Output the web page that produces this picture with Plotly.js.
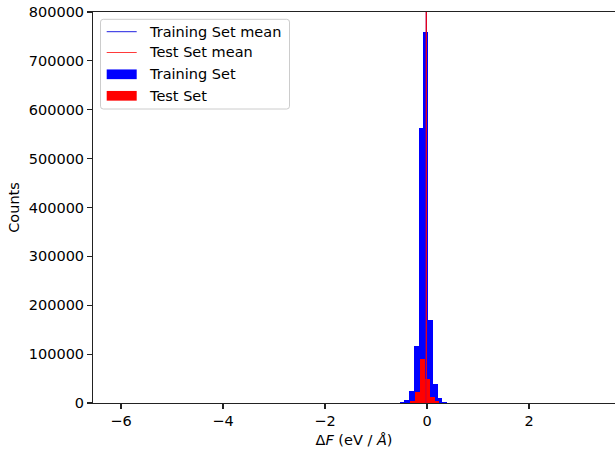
<!DOCTYPE html>
<html>
<head>
<meta charset="utf-8">
<script src="https://cdn.plot.ly/plotly-3.0.1.min.js"></script>
<style>html,body{margin:0;padding:0;background:#fff;}#chart{width:615px;height:458px;}</style>
</head>
<body>
<div id="chart"></div>
<script>
// ---- data ----
const trainBinLeft = [-0.630, -0.537, -0.444, -0.351, -0.258, -0.165, -0.072, 0.021, 0.114, 0.207, 0.300, 0.393];
const trainCounts  = [500, 2000, 6000, 25000, 117000, 563000, 760000, 170000, 39000, 11000, 2500, 500];
const trainBinWidth = 0.093;
const testBinLeft = [-0.327, -0.232, -0.137, -0.042, 0.053, 0.148];
const testCounts  = [3500, 23000, 91000, 49000, 12000, 4000];
const testBinWidth = 0.095;
const trainMean = -0.012;
const testMean = -0.014;
const xTicks = [-6, -4, -2, 0, 2];
const yTicks = [0, 100000, 200000, 300000, 400000, 500000, 600000, 700000, 800000];
const legendLabels = ["Training Set mean", "Test Set mean", "Training Set", "Test Set"];

// ---- layout geometry ----
const W = 615, H = 458;
const M = {l: 93, r: 0, t: 12, b: 55};
const PW = W - M.l - M.r, PH = H - M.t - M.b;
const FONT = "DejaVu Sans";
const FS = 14.5;
const px2x = p => (p - M.l) / PW;
const px2y = p => (H - M.b - p) / PH;

const traces = [
  {type: 'bar', x: trainBinLeft, y: trainCounts, width: trainBinWidth, offset: 0,
   marker: {color: '#0000ff', line: {width: 0}}, name: legendLabels[2], showlegend: false, hoverinfo: 'skip'},
  {type: 'bar', x: testBinLeft, y: testCounts, width: testBinWidth, offset: 0,
   marker: {color: '#ff0000', line: {width: 0}}, name: legendLabels[3], showlegend: false, hoverinfo: 'skip'},
  {type: 'scatter', mode: 'lines', x: [trainMean, trainMean], y: [0, yTicks[yTicks.length-1]],
   line: {color: '#0000ff', width: 1.2}, name: legendLabels[0], showlegend: false, hoverinfo: 'skip'},
  {type: 'scatter', mode: 'lines', x: [testMean, testMean], y: [0, yTicks[yTicks.length-1]],
   line: {color: '#ff0000', width: 1.2}, name: legendLabels[1], showlegend: false, hoverinfo: 'skip'}
];

// ---- manual matplotlib-style legend ----
const bx0 = 100.5, bx1 = 289.5, by0 = 19.3, by1 = 109, rr = 2.8;
const rx = rr / PW, ry = rr / PH;
const X0 = px2x(bx0), X1 = px2x(bx1), Y0 = px2y(by0), Y1 = px2y(by1);
const boxPath = `M${X0+rx},${Y0} L${X1-rx},${Y0} Q${X1},${Y0} ${X1},${Y0-ry} L${X1},${Y1+ry} Q${X1},${Y1} ${X1-rx},${Y1} L${X0+rx},${Y1} Q${X0},${Y1} ${X0},${Y1+ry} L${X0},${Y0-ry} Q${X0},${Y0} ${X0+rx},${Y0} Z`;
const rowY = [31.7, 52.5, 74.3, 95.8];
const hx0 = 106.7, hx1 = 136.7, hh = 9.7;
const shapes = [
  {type: 'path', xref: 'paper', yref: 'paper', path: boxPath,
   fillcolor: 'rgba(255,255,255,0.8)', line: {color: '#cccccc', width: 1}},
  {type: 'line', xref: 'paper', yref: 'paper', x0: px2x(hx0), x1: px2x(hx1), y0: px2y(rowY[0]), y1: px2y(rowY[0]),
   line: {color: '#2020e0', width: 1}},
  {type: 'line', xref: 'paper', yref: 'paper', x0: px2x(hx0), x1: px2x(hx1), y0: px2y(rowY[1]), y1: px2y(rowY[1]),
   line: {color: '#ff3a3a', width: 1}},
  {type: 'rect', xref: 'paper', yref: 'paper', x0: px2x(hx0), x1: px2x(hx1), y0: px2y(rowY[2]-hh/2), y1: px2y(rowY[2]+hh/2),
   fillcolor: '#0000ff', line: {width: 0}},
  {type: 'rect', xref: 'paper', yref: 'paper', x0: px2x(hx0), x1: px2x(hx1), y0: px2y(rowY[3]-hh/2), y1: px2y(rowY[3]+hh/2),
   fillcolor: '#ff0000', line: {width: 0}}
];
const annotations = legendLabels.map((t, i) => ({
  xref: 'paper', yref: 'paper', x: px2x(146.5), y: px2y(rowY[i]), xanchor: 'left', yanchor: 'middle',
  text: t, showarrow: false, font: {family: FONT, size: FS, color: '#000'}
}));

const axisCommon = {
  showgrid: false, zeroline: false, showline: true, linecolor: '#222', linewidth: 1.1,
  ticks: 'outside', ticklen: 4.9, tickwidth: 1.1, tickcolor: '#222',
  tickfont: {family: FONT, size: FS, color: '#000'}, automargin: false
};

const layout = {
  width: W, height: H, margin: M, paper_bgcolor: '#fff', plot_bgcolor: '#fff',
  barmode: 'overlay', bargap: 0, showlegend: false,
  font: {family: FONT, size: FS, color: '#000'},
  xaxis: Object.assign({}, axisCommon, {
    range: [(M.l - 427) / 51, (W - 427) / 51], tickvals: xTicks, mirror: true,
    title: {text: 'Δ<i>F</i> (eV / <i>Å</i>)', font: {family: FONT, size: FS, color: '#000'}, standoff: 6}
  }),
  yaxis: Object.assign({}, axisCommon, {
    range: [0, 800000], tickvals: yTicks, tickformat: 'd',
    title: {text: 'Counts', font: {family: FONT, size: FS, color: '#000'}, standoff: 5}
  }),
  shapes: shapes, annotations: annotations
};

Plotly.newPlot('chart', traces, layout, {staticPlot: true, displayModeBar: false});
</script>
</body>
</html>
